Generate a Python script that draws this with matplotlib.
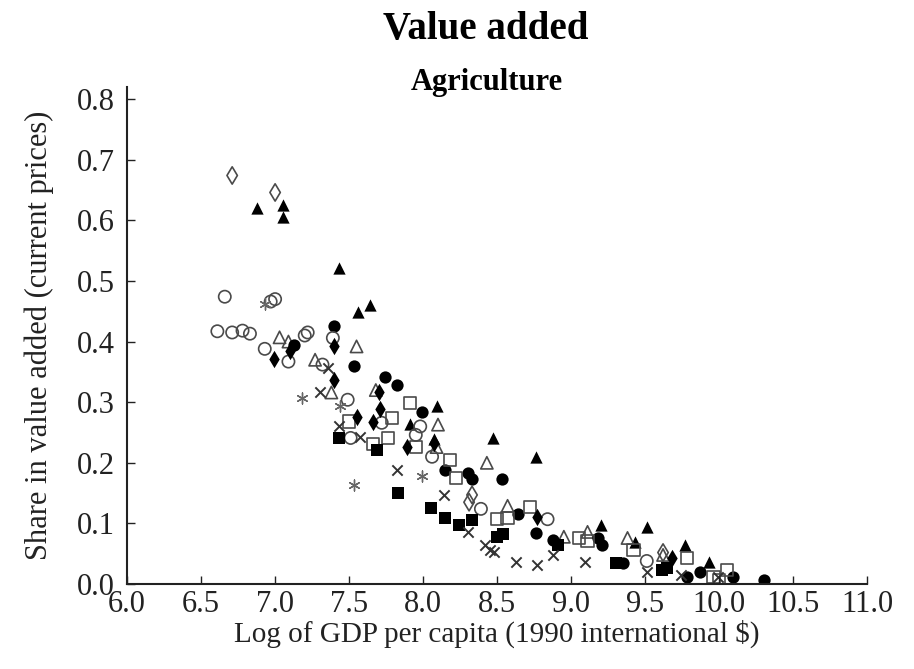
import matplotlib
matplotlib.use('Agg')
import matplotlib.pyplot as plt

plt.rcParams['font.family'] = ['Liberation Serif', 'DejaVu Serif']

# log GDP per capita / share in value added, one pair of lists per marker type
tri_f_x = [6.88, 7.05, 7.05, 7.43, 7.56, 7.64, 7.91, 8.09, 8.07, 8.47, 8.76, 9.20, 9.51, 9.43, 9.77, 9.93]
tri_f_y = [0.620, 0.626, 0.605, 0.522, 0.448, 0.460, 0.264, 0.294, 0.240, 0.241, 0.210, 0.098, 0.094, 0.069, 0.064, 0.036]

tri_o_x = [7.03, 7.09, 7.27, 7.38, 7.55, 7.68, 8.10, 8.09, 8.43, 8.57, 8.95, 9.11, 9.38, 9.62]
tri_o_y = [0.407, 0.400, 0.370, 0.316, 0.392, 0.320, 0.263, 0.226, 0.200, 0.129, 0.078, 0.086, 0.076, 0.048]

circ_f_x = [7.40, 7.13, 7.53, 7.74, 7.82, 7.99, 8.15, 8.30, 8.33, 8.53, 8.64, 8.76, 8.88, 9.18, 9.21, 9.35, 9.78, 9.87, 10.09, 10.30]
circ_f_y = [0.426, 0.395, 0.359, 0.342, 0.329, 0.283, 0.188, 0.183, 0.173, 0.173, 0.116, 0.084, 0.073, 0.076, 0.064, 0.035, 0.012, 0.020, 0.012, 0.007]

circ_o_x = [6.61, 6.71, 6.78, 6.83, 6.66, 6.97, 7.00, 6.93, 7.09, 7.20, 7.22, 7.39, 7.32, 7.49, 7.51, 7.72, 7.95, 7.98, 8.06, 8.39, 8.84, 9.51]
circ_o_y = [0.417, 0.415, 0.418, 0.413, 0.474, 0.466, 0.470, 0.388, 0.367, 0.410, 0.415, 0.406, 0.362, 0.304, 0.241, 0.266, 0.246, 0.260, 0.210, 0.124, 0.107, 0.038]

sq_o_x = [7.91, 7.50, 7.79, 7.66, 7.76, 7.95, 8.18, 8.22, 8.50, 8.57, 8.72, 9.05, 9.11, 9.42, 9.78, 9.96, 10.00, 10.05]
sq_o_y = [0.299, 0.268, 0.274, 0.231, 0.241, 0.226, 0.205, 0.175, 0.107, 0.109, 0.127, 0.076, 0.071, 0.056, 0.043, 0.012, 0.007, 0.023]

sq_f_x = [7.43, 7.69, 7.83, 8.05, 8.15, 8.24, 8.33, 8.50, 8.54, 8.91, 9.30, 9.61, 9.65]
sq_f_y = [0.241, 0.221, 0.150, 0.125, 0.109, 0.098, 0.106, 0.078, 0.083, 0.064, 0.035, 0.023, 0.026]

cross_x = [7.36, 7.30, 7.43, 7.57, 7.82, 8.14, 8.30, 8.42, 8.45, 8.48, 8.63, 8.77, 8.88, 9.09, 9.51, 9.74, 9.99]
cross_y = [0.357, 0.316, 0.260, 0.243, 0.188, 0.147, 0.086, 0.064, 0.056, 0.053, 0.036, 0.031, 0.048, 0.036, 0.020, 0.015, 0.012]

dia_f_x = [7.10, 6.99, 7.40, 7.40, 7.70, 7.71, 7.55, 7.66, 7.89, 8.07, 8.77, 9.68]
dia_f_y = [0.384, 0.372, 0.392, 0.337, 0.317, 0.288, 0.276, 0.268, 0.226, 0.232, 0.111, 0.043]

dia_o_x = [6.71, 7.00, 8.33, 8.31, 9.62]
dia_o_y = [0.674, 0.646, 0.147, 0.135, 0.052]

ast_x = [6.93, 7.18, 7.44, 7.53, 7.99]
ast_y = [0.462, 0.307, 0.293, 0.164, 0.178]

fig = plt.figure(figsize=(9.14, 6.69), dpi=100)
ax = fig.add_axes([0.139, 0.127, 0.81, 0.743])

ms = 78
edge = '#4a4a4a'
ax.scatter(tri_f_x, tri_f_y, s=ms, marker='^', c='black', lw=0)
ax.scatter(tri_o_x, tri_o_y, s=ms, marker='^', facecolors='none', edgecolors=edge, lw=1.2)
ax.scatter(circ_f_x, circ_f_y, s=ms, marker='o', c='black', lw=0)
ax.scatter(circ_o_x, circ_o_y, s=ms, marker='o', facecolors='none', edgecolors=edge, lw=1.2)
ax.scatter(sq_o_x, sq_o_y, s=ms, marker='s', facecolors='none', edgecolors=edge, lw=1.2)
ax.scatter(sq_f_x, sq_f_y, s=ms, marker='s', c='black', lw=0)
ax.scatter(cross_x, cross_y, s=ms * 0.7, marker='x', c='#333333', lw=1.4)
ax.scatter(dia_f_x, dia_f_y, s=ms, marker='d', c='black', lw=0)
ax.scatter(dia_o_x, dia_o_y, s=ms, marker='d', facecolors='none', edgecolors=edge, lw=1.2)
ax.scatter(ast_x, ast_y, s=ms * 0.8, marker=(6, 2, 0), c='#666666', lw=1.0)

ax.set_xlim(6.0, 11.0)
ax.set_ylim(0.0, 0.82)
ax.set_xticks([6.0, 6.5, 7.0, 7.5, 8.0, 8.5, 9.0, 9.5, 10.0, 10.5, 11.0])
ax.set_yticks([0.0, 0.1, 0.2, 0.3, 0.4, 0.5, 0.6, 0.7, 0.8])
ax.xaxis.set_major_formatter(matplotlib.ticker.FormatStrFormatter('%.1f'))
ax.yaxis.set_major_formatter(matplotlib.ticker.FormatStrFormatter('%.1f'))
ax.tick_params(direction='in', length=6, width=1, labelsize=22, colors='#222222')
ax.tick_params(axis='y', pad=9)
ax.tick_params(axis='x', pad=4)
ax.spines['top'].set_visible(False)
ax.spines['right'].set_visible(False)
for s in ['left', 'bottom']:
    ax.spines[s].set_linewidth(1.5)
    ax.spines[s].set_color('#222222')

ax.set_xlabel('Log of GDP per capita (1990 international $)', fontsize=21, color='#222222', labelpad=1)
ax.set_ylabel('Share in value added (current prices)', fontsize=22, color='#222222', labelpad=16)

fig.text(0.531, 0.956, 'Value added', ha='center', va='center', fontsize=28, fontweight='bold')
fig.text(0.533, 0.876, 'Agriculture', ha='center', va='center', fontsize=22, fontweight='bold')

fig.savefig('out.png', dpi=100)
